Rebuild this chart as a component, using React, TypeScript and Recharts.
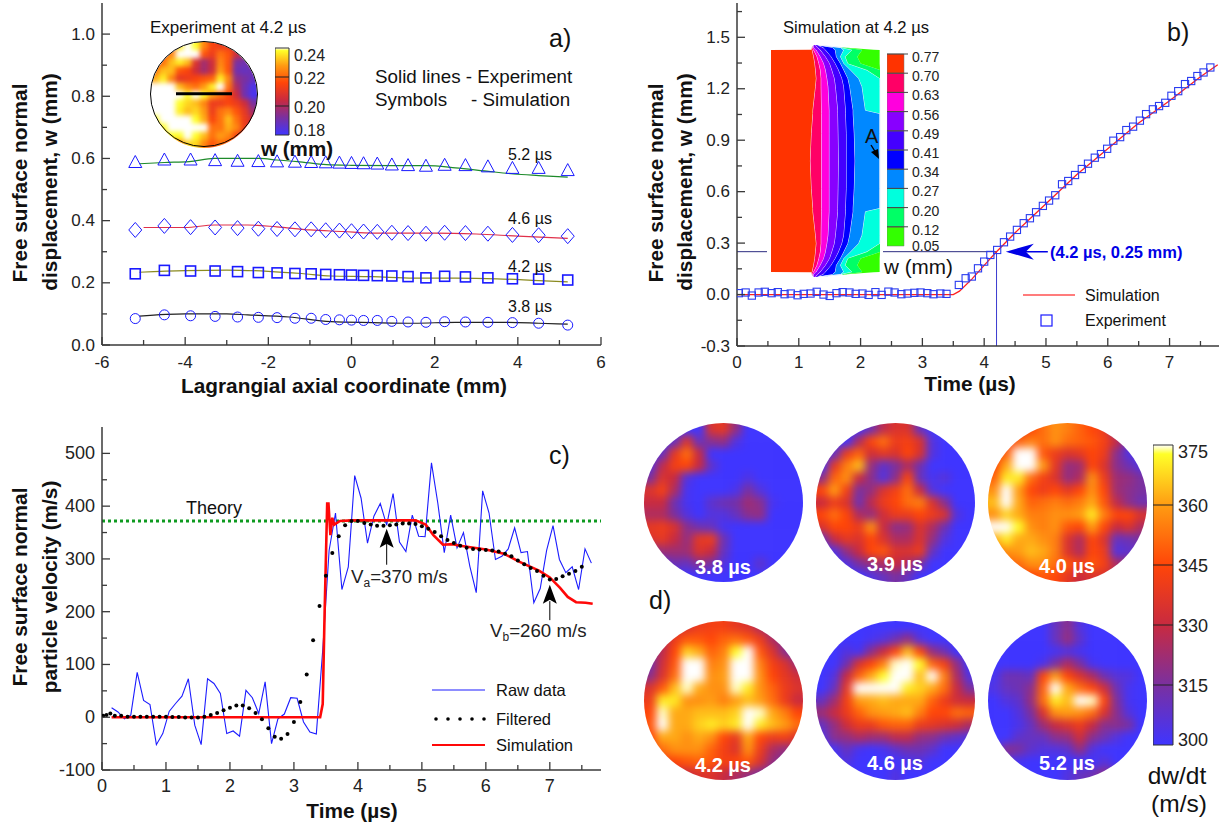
import React from "react";
import {
  Area,
  AreaChart,
  Bar,
  BarChart,
  ComposedChart,
  Line,
  ReferenceDot,
  ReferenceLine,
  Scatter,
  ScatterChart,
  XAxis,
  YAxis,
} from "recharts";

const FONT = "'Liberation Sans', Arial, sans-serif";
const FRAME = "#3a3a3a";

// ---- panel a) profiles along the axial coordinate
const symX = [-5.2, -4.5, -3.87, -3.28, -2.74, -2.24, -1.79, -1.36, -0.97, -0.62, -0.29, 0, 0.29, 0.62, 0.97, 1.36, 1.79, 2.24, 2.74, 3.28, 3.87, 4.5, 5.2];
const sim52 = [0.587, 0.595, 0.595, 0.593, 0.591, 0.59, 0.589, 0.588, 0.587, 0.586, 0.585, 0.584, 0.583, 0.582, 0.579, 0.577, 0.575, 0.578, 0.577, 0.573, 0.568, 0.568, 0.561];
const sim46 = [0.37, 0.383, 0.379, 0.378, 0.376, 0.374, 0.373, 0.372, 0.372, 0.369, 0.368, 0.366, 0.365, 0.364, 0.361, 0.36, 0.358, 0.361, 0.36, 0.358, 0.354, 0.353, 0.35];
const sim42 = [0.229, 0.24, 0.238, 0.238, 0.236, 0.233, 0.232, 0.23, 0.229, 0.227, 0.226, 0.225, 0.224, 0.223, 0.222, 0.22, 0.216, 0.221, 0.219, 0.216, 0.213, 0.212, 0.209];
const sim38 = [0.085, 0.097, 0.094, 0.092, 0.09, 0.089, 0.088, 0.086, 0.086, 0.082, 0.081, 0.08, 0.079, 0.079, 0.076, 0.074, 0.073, 0.075, 0.074, 0.073, 0.072, 0.07, 0.064];
const exp52X = [-5.1, -4.5, -3.9, -3.3, -2.7, -2.2, -1.8, -1.3, -0.6, 0, 1, 1.8, 2.5, 3.2, 3.9, 4.5, 5.2];
const exp52Y = [0.583, 0.587, 0.59, 0.6, 0.6, 0.6, 0.595, 0.59, 0.58, 0.578, 0.577, 0.577, 0.57, 0.56, 0.55, 0.545, 0.54];
const exp46X = [-5, -4, -3.3, -2.5, -1.8, -1, -0.2, 0.5, 1, 2, 3, 4, 5.2];
const exp46Y = [0.378, 0.378, 0.386, 0.386, 0.38, 0.37, 0.365, 0.36, 0.36, 0.36, 0.357, 0.35, 0.343];
const exp42X = [-5.1, -4, -3, -2, -1.2, -0.5, 0.5, 1.5, 2.5, 3.5, 4.5, 5.2];
const exp42Y = [0.234, 0.239, 0.241, 0.237, 0.23, 0.222, 0.22, 0.215, 0.215, 0.213, 0.207, 0.203];
const exp38X = [-5.1, -4, -3, -2.5, -1.5, -0.5, 0.5, 1.5, 2.5, 3.5, 4.5, 5.2];
const exp38Y = [0.093, 0.1, 0.1, 0.097, 0.09, 0.075, 0.072, 0.07, 0.073, 0.073, 0.07, 0.067];

// ---- panel b) displacement history
const dispT = [0.03, 0.14, 0.24, 0.35, 0.45, 0.56, 0.66, 0.77, 0.87, 0.98, 1.08, 1.19, 1.29, 1.4, 1.5, 1.61, 1.71, 1.82, 1.92, 2.03, 2.13, 2.24, 2.34, 2.45, 2.55, 2.66, 2.76, 2.87, 2.97, 3.08, 3.18, 3.29, 3.39, 3.59, 3.7, 3.8, 3.9, 4, 4.1, 4.21, 4.32, 4.42, 4.53, 4.64, 4.74, 4.84, 4.95, 5.05, 5.15, 5.26, 5.36, 5.47, 5.58, 5.68, 5.79, 5.89, 5.99, 6.09, 6.2, 6.3, 6.41, 6.52, 6.62, 6.73, 6.83, 6.93, 7.03, 7.14, 7.25, 7.35, 7.45, 7.55, 7.66];
const dispExp = [0.008, 0.012, -0.006, 0.012, 0.016, 0.008, 0.014, 0.002, 0.006, -0.004, 0.004, 0.006, 0.016, 0, -0.008, 0.008, 0.014, 0.012, 0.004, 0.006, -0.002, 0.014, -0.002, 0.017, 0.012, 0.002, 0.006, 0.01, 0.012, 0.008, 0.002, 0.006, 0.004, 0.056, 0.095, 0.105, 0.153, 0.192, 0.231, 0.26, 0.305, 0.338, 0.377, 0.416, 0.445, 0.48, 0.517, 0.548, 0.579, 0.643, 0.662, 0.697, 0.732, 0.763, 0.798, 0.819, 0.85, 0.897, 0.918, 0.959, 0.979, 1.014, 1.052, 1.08, 1.099, 1.118, 1.159, 1.186, 1.227, 1.245, 1.274, 1.295, 1.324];
const dispSimT = [0, 3.5, 3.6, 3.8, 4, 4.2, 4.5, 5, 5.5, 6, 6.5, 7, 7.5, 7.78];
const dispSim = [0, 0, 0.02, 0.09, 0.17, 0.25, 0.36, 0.53, 0.7, 0.85, 1, 1.13, 1.27, 1.34];

// ---- panel b) inset contour plot, edges of each band per row of the section
const simRows = [135, 142, 149, 150, 170, 190, 210, 235, 260, 330, 340, 400, 482];
const simBase = [115, 110, 108, 0, 0, 0, 0, 0, 0, 0, 0, 0, 0];
const simEdges = [
  [115, 110, 110, 111, 115, 118, 120, 122, 120, 113, 113, 109, 106],
  [115, 112, 114, 115, 124, 129, 133, 135, 135, 136, 136, 136, 136],
  [115, 114, 120, 122, 133, 142, 147, 151, 154, 157, 157, 157, 157],
  [120, 125, 132, 133, 147, 158, 164, 171, 174, 180, 180, 181, 182],
  [125, 140, 146, 147, 162, 173, 182, 191, 196, 201, 201, 203, 203],
  [128, 165, 172, 173, 176, 187, 196, 207, 212, 221, 221, 224, 226],
  [128, 187, 194, 196, 187, 196, 214, 236, 245, 254, 293, 293, 293],
  [128, 187, 216, 218, 200, 207, 258, 293, 293, 293, 293, 293, 293],
  [128, 187, 243, 245, 232, 241, 293, 293, 293, 293, 293, 293, 293],
  [128, 187, 276, 292, 292, 292, 293, 293, 293, 293, 293, 293, 293],
];
const simColors = ["#ff3300", "#ff0066", "#ff00dd", "#8800ff", "#4400ff", "#0000ff", "#0088ff", "#00ffdd", "#00ff66", "#33ff00"];
const simLabels = ["0.05", "0.12", "0.20", "0.27", "0.34", "0.41", "0.49", "0.56", "0.63", "0.70", "0.77"];

// ---- panel c) velocity history
const rawT = [0.15, 0.25, 0.35, 0.45, 0.55, 0.65, 0.75, 0.85, 0.95, 1.05, 1.15, 1.25, 1.35, 1.45, 1.55, 1.65, 1.75, 1.85, 1.95, 2.05, 2.15, 2.25, 2.35, 2.45, 2.55, 2.65, 2.75, 2.85, 2.95, 3.05, 3.15, 3.25, 3.35, 3.45, 3.55, 3.65, 3.75, 3.85, 3.95, 4.05, 4.15, 4.25, 4.35, 4.45, 4.55, 4.65, 4.75, 4.85, 4.95, 5.05, 5.15, 5.25, 5.35, 5.45, 5.55, 5.65, 5.75, 5.85, 5.95, 6.05, 6.15, 6.25, 6.35, 6.45, 6.55, 6.65, 6.75, 6.85, 6.95, 7.05, 7.15, 7.25, 7.35, 7.45, 7.55, 7.65];
const rawV = [18, 10, -3, 4, 85, 32, 24, -52, -31, 11, 26, 40, 73, -15, -52, 73, 64, 45, -31, -26, -36, 51, 37, 7, 67, -50, -3, 6, 37, 36, -9, -28, -32, 127, 316, 387, 242, 285, 458, 415, 330, 381, 405, 364, 424, 332, 314, 383, 343, 342, 482, 405, 312, 383, 321, 350, 286, 236, 429, 387, 299, 305, 319, 359, 312, 314, 217, 244, 316, 363, 299, 274, 285, 242, 319, 292];
const filtT = [0.02, 0.07, 0.13, 0.2, 0.3, 0.4, 0.5, 0.6, 0.7, 0.8, 0.9, 1, 1.1, 1.2, 1.3, 1.4, 1.5, 1.6, 1.7, 1.8, 1.9, 2, 2.1, 2.2, 2.3, 2.4, 2.5, 2.6, 2.7, 2.8, 2.9, 3, 3.1, 3.2, 3.3, 3.4, 3.5, 3.6, 3.7, 3.8, 3.9, 4, 4.1, 4.2, 4.3, 4.4, 4.5, 4.6, 4.7, 4.8, 4.9, 5, 5.1, 5.2, 5.3, 5.4, 5.5, 5.6, 5.7, 5.8, 5.9, 6, 6.1, 6.2, 6.3, 6.4, 6.5, 6.6, 6.7, 6.8, 6.9, 7, 7.1, 7.2, 7.3, 7.4, 7.5];
const filtV = [3, 4, 7, 3, 3, 1, 1, 1, 1, 1, 1, 1, 0.5, 0.5, -0.5, -0.5, -0.5, 1, 4, 8, 13, 18, 22, 22, 17, 8, -4, -21, -37, -41, -32, -9, 29, 81, 146, 211, 268, 311, 343, 364, 372, 372, 368, 365, 363, 363, 364, 365, 367, 367, 366, 362, 357, 351, 343, 336, 330, 325, 321, 319, 318, 317, 316, 314, 310, 305, 297, 290, 283, 277, 268, 261, 262, 267, 272, 277, 285];
const velSimT = [0.15, 3.41, 3.45, 3.48, 3.52, 3.54, 3.57, 3.6, 3.63, 3.72, 3.9, 4.9, 5.06, 5.18, 5.33, 5.48, 5.6, 6, 6.28, 6.52, 6.83, 7, 7.16, 7.28, 7.41, 7.56, 7.67];
const velSim = [0, 0, 25, 200, 405, 405, 345, 378, 365, 372, 373, 373, 365, 345, 327, 328, 325, 318, 310, 295, 278, 265, 245, 228, 218, 217, 215];
const THEORY = 372;

// ---- panel d) velocity maps, m/s on a coarse grid across the disc
const map38 = [
  [300, 300, 300, 300, 300, 335, 338, 320, 300, 300, 300, 300, 300],
  [300, 300, 310, 335, 310, 318, 320, 305, 300, 300, 300, 300, 300],
  [300, 310, 338, 352, 330, 300, 300, 300, 300, 300, 300, 300, 300],
  [305, 328, 342, 345, 330, 308, 300, 300, 300, 300, 300, 300, 300],
  [315, 335, 330, 305, 300, 300, 300, 300, 304, 300, 300, 300, 300],
  [335, 342, 325, 302, 300, 300, 300, 303, 315, 305, 300, 300, 300],
  [330, 330, 312, 302, 300, 308, 312, 314, 322, 318, 302, 300, 300],
  [325, 325, 315, 305, 300, 305, 305, 310, 318, 320, 300, 300, 300],
  [338, 340, 335, 318, 312, 310, 302, 300, 300, 300, 300, 300, 300],
  [335, 338, 330, 320, 338, 340, 312, 300, 300, 300, 300, 300, 300],
  [315, 322, 322, 322, 335, 330, 310, 300, 300, 300, 300, 300, 300],
  [300, 305, 312, 310, 318, 315, 305, 300, 300, 308, 300, 300, 300],
  [300, 300, 300, 300, 300, 300, 300, 300, 300, 300, 300, 300, 300],
];
const map39 = [
  [300, 300, 300, 300, 312, 328, 335, 335, 310, 300, 300, 300, 300],
  [300, 300, 300, 325, 345, 352, 340, 342, 335, 305, 300, 300, 300],
  [300, 310, 340, 350, 332, 338, 335, 345, 335, 305, 300, 300, 300],
  [300, 338, 355, 365, 320, 308, 315, 325, 312, 300, 300, 300, 300],
  [318, 350, 358, 330, 318, 305, 318, 345, 310, 302, 306, 300, 300],
  [345, 360, 342, 315, 320, 335, 342, 352, 330, 305, 300, 300, 300],
  [330, 340, 335, 312, 328, 340, 345, 352, 355, 335, 318, 300, 300],
  [345, 352, 345, 325, 320, 332, 340, 340, 345, 340, 335, 305, 300],
  [335, 345, 345, 340, 358, 330, 318, 320, 335, 325, 312, 300, 300],
  [310, 330, 338, 335, 345, 335, 325, 325, 335, 320, 305, 300, 300],
  [300, 305, 320, 330, 345, 348, 335, 335, 340, 310, 300, 300, 300],
  [300, 300, 305, 315, 320, 325, 330, 325, 315, 300, 300, 300, 300],
  [300, 300, 300, 300, 305, 310, 315, 310, 300, 300, 300, 300, 300],
];
const map40 = [
  [335, 335, 335, 345, 352, 358, 355, 350, 345, 340, 315, 305, 300],
  [335, 342, 350, 355, 352, 358, 352, 350, 348, 342, 330, 308, 305],
  [340, 350, 388, 385, 348, 340, 335, 338, 345, 340, 318, 305, 302],
  [345, 362, 395, 395, 360, 338, 320, 322, 345, 335, 318, 312, 305],
  [350, 372, 372, 352, 342, 335, 320, 325, 358, 340, 322, 320, 315],
  [358, 385, 360, 345, 340, 345, 338, 345, 358, 345, 322, 318, 315],
  [365, 385, 362, 350, 352, 355, 352, 355, 362, 348, 328, 318, 312],
  [358, 368, 362, 355, 355, 358, 358, 360, 372, 355, 345, 345, 335],
  [385, 392, 375, 358, 355, 358, 348, 345, 360, 345, 330, 335, 325],
  [362, 372, 362, 362, 358, 355, 335, 325, 345, 335, 310, 312, 315],
  [350, 358, 360, 365, 362, 355, 335, 325, 345, 340, 305, 308, 310],
  [345, 350, 352, 358, 358, 352, 348, 342, 348, 342, 325, 320, 315],
  [335, 338, 340, 345, 348, 345, 338, 330, 335, 335, 325, 315, 310],
];
const map42 = [
  [315, 320, 330, 335, 340, 342, 342, 338, 335, 325, 318, 312, 310],
  [320, 325, 340, 348, 348, 345, 350, 352, 348, 340, 325, 318, 312],
  [315, 328, 345, 368, 362, 350, 355, 375, 385, 348, 335, 318, 310],
  [312, 332, 348, 392, 392, 355, 358, 392, 395, 355, 342, 335, 322],
  [318, 335, 352, 395, 392, 358, 360, 395, 392, 358, 345, 338, 332],
  [335, 348, 365, 378, 362, 358, 358, 378, 372, 358, 350, 340, 335],
  [340, 372, 372, 358, 358, 360, 355, 360, 365, 360, 352, 340, 330],
  [345, 378, 362, 362, 365, 365, 365, 368, 390, 378, 362, 355, 345],
  [348, 382, 362, 362, 368, 372, 368, 372, 392, 372, 365, 360, 352],
  [345, 362, 362, 358, 362, 358, 345, 338, 362, 345, 340, 342, 335],
  [340, 352, 358, 358, 358, 350, 342, 335, 358, 340, 325, 320, 325],
  [335, 340, 345, 348, 350, 348, 342, 345, 348, 335, 320, 315, 315],
  [325, 328, 330, 330, 335, 335, 330, 325, 320, 315, 312, 310, 310],
];
const map46 = [
  [300, 300, 300, 300, 300, 300, 300, 300, 300, 300, 300, 300, 300],
  [300, 300, 300, 300, 302, 305, 312, 320, 305, 300, 300, 300, 300],
  [300, 300, 305, 302, 318, 330, 345, 365, 345, 320, 312, 300, 300],
  [300, 300, 312, 335, 345, 355, 378, 395, 375, 350, 342, 320, 300],
  [300, 305, 330, 350, 362, 375, 395, 392, 365, 385, 355, 325, 305],
  [300, 310, 338, 385, 388, 385, 392, 372, 368, 362, 352, 330, 315],
  [310, 322, 342, 360, 362, 365, 362, 362, 362, 350, 340, 332, 330],
  [322, 330, 340, 350, 358, 360, 362, 365, 355, 345, 345, 352, 350],
  [310, 320, 332, 340, 340, 348, 350, 350, 340, 338, 335, 332, 325],
  [305, 318, 320, 325, 322, 322, 328, 328, 320, 318, 312, 308, 305],
  [300, 302, 310, 302, 300, 302, 308, 312, 312, 308, 300, 300, 300],
  [300, 300, 305, 300, 300, 300, 300, 303, 305, 300, 300, 300, 300],
  [300, 300, 300, 300, 300, 300, 305, 300, 300, 300, 300, 300, 300],
];
const map52 = [
  [300, 300, 300, 300, 300, 310, 318, 305, 300, 300, 300, 300, 300],
  [300, 300, 300, 300, 300, 310, 320, 308, 300, 300, 300, 300, 300],
  [300, 300, 300, 300, 300, 302, 305, 302, 300, 300, 300, 300, 300],
  [300, 300, 300, 300, 303, 315, 325, 315, 302, 300, 300, 300, 300],
  [302, 312, 312, 310, 345, 360, 345, 335, 325, 312, 306, 305, 300],
  [304, 310, 312, 318, 350, 380, 362, 352, 345, 332, 312, 302, 300],
  [300, 305, 308, 320, 352, 372, 365, 395, 378, 345, 316, 302, 300],
  [300, 300, 305, 315, 335, 358, 360, 358, 352, 335, 318, 305, 300],
  [300, 300, 303, 310, 322, 330, 335, 340, 330, 318, 318, 315, 300],
  [300, 300, 308, 310, 310, 318, 320, 332, 318, 312, 305, 300, 300],
  [300, 318, 315, 308, 305, 305, 308, 320, 305, 300, 300, 300, 300],
  [300, 305, 302, 300, 300, 300, 300, 300, 300, 306, 300, 300, 300],
  [300, 300, 300, 300, 300, 300, 305, 310, 312, 318, 312, 300, 300],
];
// inset of panel a), displacement in micrometres
const mapInset = [
  [205, 210, 220, 238, 250, 240, 225, 215, 212, 212, 205, 200, 195],
  [210, 218, 225, 250, 250, 245, 218, 212, 222, 218, 205, 200, 195],
  [215, 222, 232, 238, 232, 208, 198, 205, 225, 218, 192, 190, 195],
  [222, 232, 232, 218, 215, 205, 198, 205, 228, 218, 190, 188, 190],
  [230, 238, 225, 210, 212, 215, 218, 220, 238, 225, 195, 192, 188],
  [245, 250, 245, 232, 225, 222, 228, 238, 250, 222, 200, 190, 183],
  [250, 250, 250, 245, 240, 245, 240, 228, 222, 215, 205, 190, 182],
  [250, 250, 250, 240, 235, 232, 225, 212, 212, 215, 212, 205, 192],
  [250, 250, 250, 238, 232, 235, 228, 212, 222, 225, 218, 210, 198],
  [240, 250, 250, 250, 248, 240, 230, 215, 222, 232, 222, 212, 205],
  [235, 240, 248, 250, 250, 250, 250, 222, 222, 230, 225, 212, 205],
  [230, 235, 240, 240, 250, 240, 232, 222, 228, 225, 215, 205, 200],
  [225, 225, 225, 225, 235, 235, 225, 218, 222, 218, 210, 205, 200],
];

// colour table of the maps, value to rgb
const heatStops: [number, number[]][] = [
  [300, [63, 53, 255]],
  [315, [122, 48, 160]],
  [330, [200, 42, 64]],
  [345, [255, 69, 8]],
  [360, [255, 156, 18]],
  [375, [255, 255, 40]],
  [379, [255, 255, 255]],
];
const heatColor = (v: number) => {
  if (v <= 300) return "rgb(63,53,255)";
  for (let i = 1; i < heatStops.length; i++) {
    const [hi, c1] = heatStops[i];
    const [lo, c0] = heatStops[i - 1];
    if (v <= hi) {
      const f = (v - lo) / (hi - lo);
      const c = c0.map((a, k) => Math.round(a + (c1[k] - a) * f));
      return `rgb(${c[0]},${c[1]},${c[2]})`;
    }
  }
  return "#fff";
};
const insetColor = (w: number) => heatColor(300 + (w - 180) * 1.25);

const zip = (xs: number[], ys: number[]) => xs.map((x, i) => ({ x, y: ys[i] }));

const T = ({ x, y, size = 16, bold, fill = "#111", anchor = "start", rotate, children }: any) => (
  <text
    x={rotate ? 0 : x}
    y={rotate ? 0 : y}
    transform={rotate ? `translate(${x},${y}) rotate(${rotate})` : undefined}
    fontFamily={FONT}
    fontSize={size}
    fontWeight={bold ? "bold" : "normal"}
    fill={fill}
    textAnchor={anchor}
    dominantBaseline="central"
  >
    {children}
  </text>
);

// inward ticks for all four sides of the frame, labels only on left and bottom
const frameTick = (side: string, majors: number[], fmt: (v: number) => string, size: number, gap: number) => (p: any) => {
  const v = p.payload.value;
  const isMajor = majors.includes(v);
  const len = isMajor ? 8 : 5;
  const dx = side === "left" ? len : side === "right" ? -len : 0;
  const dy = side === "top" ? len : side === "bottom" ? -len : 0;
  return (
    <g>
      <line x1={p.x} y1={p.y} x2={p.x + dx} y2={p.y + dy} stroke={FRAME} strokeWidth={1.3} />
      {isMajor && side === "left" && (
        <text x={p.x - gap} y={p.y} textAnchor="end" dominantBaseline="central" fontFamily={FONT} fontSize={size} fill="#222">
          {fmt(v)}
        </text>
      )}
      {isMajor && side === "bottom" && (
        <text x={p.x} y={p.y + gap} textAnchor="middle" dominantBaseline="central" fontFamily={FONT} fontSize={size} fill="#222">
          {fmt(v)}
        </text>
      )}
    </g>
  );
};

const frameAxes = (c: any) => {
  const line = { stroke: FRAME, strokeWidth: 1.5 };
  const common = { type: "number" as const, interval: 0 as const, tickLine: false, tickSize: 0, tickMargin: 0, axisLine: line, allowDataOverflow: true };
  return [
    <XAxis key="b" {...common} dataKey="x" domain={c.xDomain} ticks={c.xTicks} height={c.bottom} tick={frameTick("bottom", c.xMajors, c.xFmt, c.size, c.xGap)} />,
    <XAxis key="t" {...common} xAxisId="top" orientation="top" domain={c.xDomain} ticks={c.xTicks} height={0} tick={frameTick("top", c.xMajors, c.xFmt, c.size, 0)} />,
    <YAxis key="l" {...common} domain={c.yDomain} ticks={c.yTicks} width={c.left} tick={frameTick("left", c.yMajors, c.yFmt, c.size, c.yGap)} />,
    <YAxis key="r" {...common} yAxisId="right" orientation="right" domain={c.yDomain} ticks={c.yTicks} width={0} tick={frameTick("right", c.yMajors, c.yFmt, c.size, 0)} />,
  ];
};

const triangle = (p: any) => <path key={p.index} d={`M${p.cx} ${p.cy - 7}L${p.cx + 6.5} ${p.cy + 5}L${p.cx - 6.5} ${p.cy + 5}Z`} fill="none" stroke="#1a1aff" strokeWidth={1} />;
const diamond = (p: any) => <path key={p.index} d={`M${p.cx} ${p.cy - 7.5}L${p.cx + 6.5} ${p.cy}L${p.cx} ${p.cy + 7.5}L${p.cx - 6.5} ${p.cy}Z`} fill="none" stroke="#1a1aff" strokeWidth={1} />;
const square = (p: any) => <rect key={p.index} x={p.cx - 5} y={p.cy - 5} width={10} height={10} fill="none" stroke="#1a1aff" strokeWidth={1.6} />;
const circle = (p: any) => <circle key={p.index} cx={p.cx} cy={p.cy} r={5} fill="none" stroke="#1a1aff" strokeWidth={1} />;
const smallSquare = (p: any) => <rect key={p.index} x={p.cx - 3.6} y={p.cy - 3.6} width={7.2} height={7.2} fill="none" stroke="#2a3cf0" strokeWidth={1.1} />;
const blackDot = (p: any) => <circle key={p.index} cx={p.cx} cy={p.cy} r={2} fill="#000" />;
const arrowUp = (p: any) => <path d={`M${p.cx} ${p.cy}L${p.cx + 7} ${p.cy + 19}L${p.cx} ${p.cy + 15}L${p.cx - 7} ${p.cy + 19}Z`} fill="#000" />;
const arrowLeft = (p: any) => <path d={`M${p.cx} ${p.cy}L${p.cx + 28} ${p.cy - 8}L${p.cx + 20} ${p.cy}L${p.cx + 28} ${p.cy + 8}Z`} fill="#0000e6" />;

const Box = ({ left, top, width, height, style, children }: any) => (
  <div style={{ position: "absolute", left, top, width, height, ...style }}>{children}</div>
);

function PanelA() {
  const profiles = [
    { ys: sim52, dot: triangle, lx: exp52X, ly: exp52Y, col: "#1d8a2a" },
    { ys: sim46, dot: diamond, lx: exp46X, ly: exp46Y, col: "#e0304a" },
    { ys: sim42, dot: square, lx: exp42X, ly: exp42Y, col: "#8a8a20" },
    { ys: sim38, dot: circle, lx: exp38X, ly: exp38Y, col: "#222" },
  ];
  return (
    <Box left={0} top={0} width={620} height={400}>
      <ComposedChart width={620} height={400} margin={{ top: 3, right: 19, bottom: 0, left: 0 }}>
        {frameAxes({
          xDomain: [-6, 6], xTicks: [-6, -5, -4, -3, -2, -1, 0, 1, 2, 3, 4, 5, 6], xMajors: [-6, -4, -2, 0, 2, 4, 6], xFmt: String, xGap: 17,
          yDomain: [0, 1.1], yTicks: [0, 0.1, 0.2, 0.3, 0.4, 0.5, 0.6, 0.7, 0.8, 0.9, 1], yMajors: [0, 0.2, 0.4, 0.6, 0.8, 1], yFmt: (v: number) => v.toFixed(1), yGap: 7,
          left: 102, bottom: 55, size: 17,
        })}
        {profiles.map((s, i) => (
          <Line key={`l${i}`} data={zip(s.lx, s.ly)} dataKey="y" type="monotone" stroke={s.col} strokeWidth={1.2} dot={false} isAnimationActive={false} />
        ))}
        {profiles.map((s, i) => (
          <Line key={`s${i}`} data={zip(symX, s.ys)} dataKey="y" stroke="none" dot={s.dot} isAnimationActive={false} />
        ))}
      </ComposedChart>
    </Box>
  );
}

function PanelB() {
  return (
    <Box left={620} top={0} width={602} height={400}>
      <ComposedChart width={602} height={400} margin={{ top: 3, right: 3, bottom: 0, left: 0 }}>
        {frameAxes({
          xDomain: [0, 7.8], xTicks: [0, 0.5, 1, 1.5, 2, 2.5, 3, 3.5, 4, 4.5, 5, 5.5, 6, 6.5, 7, 7.5], xMajors: [0, 1, 2, 3, 4, 5, 6, 7], xFmt: String, xGap: 16,
          yDomain: [-0.3, 1.7], yTicks: [-0.3, -0.15, 0, 0.15, 0.3, 0.45, 0.6, 0.75, 0.9, 1.05, 1.2, 1.35, 1.5, 1.65], yMajors: [-0.3, 0, 0.3, 0.6, 0.9, 1.2, 1.5], yFmt: (v: number) => v.toFixed(1), yGap: 7,
          left: 117, bottom: 54, size: 17,
        })}
        <ReferenceLine segment={[{ x: 0, y: 0.25 }, { x: 4.2, y: 0.25 }]} stroke="#2c2c80" strokeWidth={1} />
        <ReferenceLine segment={[{ x: 4.2, y: -0.3 }, { x: 4.2, y: 0.25 }]} stroke="#3a3ad0" strokeWidth={1} />
        <ReferenceLine segment={[{ x: 4.4, y: 0.25 }, { x: 5.03, y: 0.25 }]} stroke="#0000e6" strokeWidth={1.5} />
        <ReferenceDot x={4.35} y={0.25} shape={arrowLeft} />
        <Line data={zip(dispSimT, dispSim)} dataKey="y" stroke="#ff2020" strokeWidth={1.3} dot={false} isAnimationActive={false} />
        <Line data={zip(dispT, dispExp)} dataKey="y" stroke="none" dot={smallSquare} isAnimationActive={false} />
      </ComposedChart>
    </Box>
  );
}

function PanelC() {
  return (
    <Box left={0} top={400} width={620} height={423}>
      <ComposedChart width={620} height={423} margin={{ top: 27, right: 19, bottom: 0, left: 0 }}>
        {frameAxes({
          xDomain: [0, 7.8], xTicks: [0, 0.5, 1, 1.5, 2, 2.5, 3, 3.5, 4, 4.5, 5, 5.5, 6, 6.5, 7, 7.5], xMajors: [0, 1, 2, 3, 4, 5, 6, 7], xFmt: String, xGap: 16,
          yDomain: [-100, 550], yTicks: [-100, -50, 0, 50, 100, 150, 200, 250, 300, 350, 400, 450, 500], yMajors: [-100, 0, 100, 200, 300, 400, 500], yFmt: String, yGap: 7,
          left: 102, bottom: 53, size: 18,
        })}
        <ReferenceLine y={THEORY} stroke="#0e9a20" strokeWidth={3} strokeDasharray="3 3" />
        <ReferenceLine segment={[{ x: 4.45, y: 289 }, { x: 4.45, y: 330 }]} stroke="#000" strokeWidth={1} />
        <ReferenceDot x={4.45} y={357} shape={arrowUp} />
        <ReferenceLine segment={[{ x: 7, y: 184 }, { x: 7, y: 220 }]} stroke="#000" strokeWidth={1} />
        <ReferenceDot x={7} y={251} shape={arrowUp} />
        <Line data={zip(rawT, rawV)} dataKey="y" stroke="#1c1cff" strokeWidth={1.1} dot={false} isAnimationActive={false} />
        <Line data={zip(velSimT, velSim)} dataKey="y" stroke="#ff0808" strokeWidth={2.6} dot={false} isAnimationActive={false} />
        <Line data={zip(filtT, filtV)} dataKey="y" stroke="none" dot={blackDot} isAnimationActive={false} />
      </ComposedChart>
    </Box>
  );
}

// one map, cells go through the scales, the wrapper blurs them and cuts the disc
function HeatDisc({ grid, left, top, size, blur = 4.3, color = heatColor }: any) {
  const pad = 18;
  const n = grid.length;
  const cell = size / n;
  const cells = grid.flatMap((row: number[], r: number) => row.map((v, c) => ({ c, r, v })));
  const shape = (p: any) => {
    const d = p.payload;
    const x0 = d.c === 0 ? p.cx - cell / 2 - pad : p.cx - cell / 2;
    const x1 = d.c === n - 1 ? p.cx + cell / 2 + pad : p.cx + cell / 2 + 0.5;
    const y0 = d.r === 0 ? p.cy - cell / 2 - pad : p.cy - cell / 2;
    const y1 = d.r === n - 1 ? p.cy + cell / 2 + pad : p.cy + cell / 2 + 0.5;
    return <rect x={x0} y={y0} width={x1 - x0} height={y1 - y0} fill={color(d.v)} />;
  };
  return (
    <Box left={left} top={top} width={size} height={size} style={{ borderRadius: "50%", overflow: "hidden" }}>
      <Box left={-pad} top={-pad} width={size + 2 * pad} height={size + 2 * pad} style={{ filter: `blur(${blur}px)` }}>
        <ScatterChart width={size + 2 * pad} height={size + 2 * pad} margin={{ top: pad, right: pad, bottom: pad, left: pad }}>
          <XAxis type="number" dataKey="c" domain={[-0.5, n - 0.5]} hide />
          <YAxis type="number" dataKey="r" domain={[-0.5, n - 0.5]} reversed hide />
          <Scatter data={cells} shape={shape} isAnimationActive={false} />
        </ScatterChart>
      </Box>
    </Box>
  );
}

// gradient colour bars of the maps
function GradientBar({ id, left, top, barW, height, min, max, stops, ticks, fmt, size, labelW }: any) {
  const pad = 14;
  const tick = (p: any) => {
    const v = p.payload.value;
    const dy = v === max ? 7 : v === min ? -5 : 1;
    return (
      <g>
        {v !== max && v !== min && <line x1={p.x - barW} x2={p.x} y1={p.y} y2={p.y} stroke="#222" strokeWidth={1} />}
        <text x={p.x + 5} y={p.y + dy} dominantBaseline="central" fontFamily={FONT} fontSize={size} fill="#222">
          {fmt(v)}
        </text>
      </g>
    );
  };
  return (
    <Box left={left} top={top - pad} width={barW + labelW} height={height + 2 * pad}>
      <BarChart width={barW + labelW} height={height + 2 * pad} data={[{ n: "", v: max }]} barCategoryGap={0} margin={{ top: pad, right: 0, bottom: pad, left: 0 }}>
        <defs>
          <linearGradient id={id} x1="0" y1="1" x2="0" y2="0">
            {stops.map((s: any) => (
              <stop key={s[0]} offset={s[0]} stopColor={s[1]} />
            ))}
          </linearGradient>
        </defs>
        <XAxis dataKey="n" hide />
        <Bar dataKey="v" fill={`url(#${id})`} stroke="#333" strokeWidth={1} isAnimationActive={false} />
        <YAxis orientation="right" type="number" domain={[min, max]} ticks={ticks} interval={0} width={labelW} axisLine={false} tickLine={false} tickSize={0} tickMargin={0} tick={tick} />
      </BarChart>
    </Box>
  );
}

const heatBarStops = [
  [0, "#3f35ff"], [0.2, "#7a30a0"], [0.4, "#c82a40"], [0.6, "#ff4508"], [0.8, "#ff9c12"], [0.97, "#ffff28"], [1, "#ffffff"],
];

function SimBar() {
  const row: any = { n: "" };
  simColors.forEach((_, i) => (row[`b${i}`] = 1));
  const tick = (p: any) => {
    const i = p.payload.value;
    return (
      <g>
        {i > 0 && i <= 10 && <line x1={p.x - 17} x2={p.x + 4} y1={p.y} y2={p.y} stroke="#444" strokeWidth={1} />}
        <text x={p.x + 8} y={p.y + (i === 0 ? 0 : 3)} dominantBaseline="central" fontFamily={FONT} fontSize={14} fill="#222">
          {simLabels[i]}
        </text>
      </g>
    );
  };
  return (
    <Box left={887} top={44} width={55} height={212}>
      <BarChart width={55} height={212} data={[row]} barCategoryGap={0} margin={{ top: 10, right: 0, bottom: 10, left: 0 }}>
        <XAxis dataKey="n" hide />
        {simColors.map((_, i) => (
          <Bar key={i} dataKey={`b${i}`} stackId="s" fill={simColors[9 - i]} stroke="#777" strokeWidth={0.5} isAnimationActive={false} />
        ))}
        <YAxis orientation="right" type="number" domain={[0, 10]} ticks={[0, 1, 2, 3, 4, 5, 6, 7, 8, 9, 10]} interval={0} width={38} axisLine={false} tickLine={false} tickSize={0} tickMargin={0} tick={tick} />
      </BarChart>
    </Box>
  );
}

function SimContour() {
  // mirror the upper half of the section, the specimen is symmetric
  const lastRow = simRows.length - 1;
  const toRow = (pos: number, i: number) => {
    const rec: any = { pos, base: simBase[i] };
    let prev = simBase[i];
    simEdges.forEach((e, b) => {
      rec[`b${b}`] = e[i] - prev;
      prev = e[i];
    });
    return rec;
  };
  const rows = simRows.map(toRow);
  for (let i = lastRow - 1; i >= 0; i--) rows.push(toRow(964 - simRows[i], i));
  return (
    <>
      <Box left={767} top={43} width={116} height={236} style={{ background: "#fff" }} />
      <Box left={770.5} top={45} width={110.5} height={232}>
        <AreaChart width={110.5} height={232} layout="vertical" data={rows} margin={{ top: 0, right: 0, bottom: 0, left: 0 }}>
          <XAxis type="number" domain={[0, 297]} hide />
          <YAxis type="number" dataKey="pos" domain={[135, 829]} reversed hide />
          <Area dataKey="base" stackId="c" type="linear" fill="none" stroke="none" isAnimationActive={false} />
          {simColors.map((c, i) => (
            <Area key={c} dataKey={`b${i}`} stackId="c" type="linear" fill={c} fillOpacity={1} stroke={i < 8 ? "#f4f4ff" : "none"} strokeWidth={0.9} isAnimationActive={false} />
          ))}
        </AreaChart>
      </Box>
    </>
  );
}

function Overlay() {
  return (
    <svg width={1222} height={823} style={{ position: "absolute", left: 0, top: 0, pointerEvents: "none" }}>
      {/* panel a */}
      <T x={19.5} y={183} size={20.8} bold anchor="middle" rotate={-90}>Free surface normal</T>
      <T x={49} y={182} size={20.8} bold anchor="middle" rotate={-90}>displacement, w (mm)</T>
      <T x={344} y={385} size={20.8} bold anchor="middle">Lagrangial axial coordinate (mm)</T>
      <T x={549} y={38} size={25}>a)</T>
      <T x={150} y={27} size={17}>Experiment at 4.2 µs</T>
      <T x={261} y={148} size={20.6} bold>w (mm)</T>
      <T x={375} y={76} size={18.8}>Solid lines - Experiment</T>
      <T x={375} y={99} size={18.8}>Symbols</T>
      <T x={471} y={99} size={18.8}>- Simulation</T>
      <T x={508} y={154} size={16}>5.2 µs</T>
      <T x={508} y={218} size={16}>4.6 µs</T>
      <T x={508} y={266} size={16}>4.2 µs</T>
      <T x={508} y={306} size={16}>3.8 µs</T>
      <ellipse cx={204} cy={94} rx={53.5} ry={52.5} fill="none" stroke="#000" strokeWidth={1} />
      <line x1={176} y1={93.7} x2={232} y2={93.7} stroke="#000" strokeWidth={3} />

      {/* panel b */}
      <T x={655} y={183} size={20.8} bold anchor="middle" rotate={-90}>Free surface normal</T>
      <T x={684} y={182} size={20.8} bold anchor="middle" rotate={-90}>displacement, w (mm)</T>
      <T x={970} y={383} size={20.8} bold anchor="middle">Time (µs)</T>
      <T x={1167} y={32} size={25}>b)</T>
      <T x={783} y={27} size={16.6}>Simulation at 4.2 µs</T>
      <T x={884} y={266} size={20.7}>w (mm)</T>
      <T x={865} y={136} size={20}>A</T>
      <line x1={871} y1={145} x2={876} y2={153} stroke="#000" strokeWidth={1.4} />
      <path d="M879 159L871 152L878 149Z" fill="#000" />
      <T x={1050} y={252} size={16.5} bold fill="#0000e6">(4.2 µs, 0.25 mm)</T>
      <line x1={1023} y1={295} x2={1075} y2={295} stroke="#ff5050" strokeWidth={1.4} />
      <T x={1085} y={295} size={16}>Simulation</T>
      <rect x={1041} y={315} width={11} height={11} fill="none" stroke="#1a1aff" strokeWidth={1.2} />
      <T x={1085} y={320} size={16}>Experiment</T>

      {/* panel c */}
      <T x={19.5} y={587} size={20.8} bold anchor="middle" rotate={-90}>Free surface normal</T>
      <T x={49} y={587} size={20.8} bold anchor="middle" rotate={-90}>particle velocity (m/s)</T>
      <T x={352} y={810} size={20.8} bold anchor="middle">Time (µs)</T>
      <T x={549} y={455} size={25}>c)</T>
      <T x={186} y={508} size={18}>Theory</T>
      <text x={351} y={583} fontFamily={FONT} fontSize={18.7} fill="#222">
        V<tspan fontSize={12} dy={4}>a</tspan>
        <tspan dy={-4}>=370 m/s</tspan>
      </text>
      <text x={490} y={637} fontFamily={FONT} fontSize={18.7} fill="#222">
        V<tspan fontSize={12} dy={4}>b</tspan>
        <tspan dy={-4}>=260 m/s</tspan>
      </text>
      <line x1={432} y1={690} x2={485} y2={690} stroke="#1c1cff" strokeWidth={1.2} />
      <T x={496} y={690} size={16.5}>Raw data</T>
      {[436, 448, 460, 472, 484].map((x) => (
        <circle key={x} cx={x} cy={719} r={1.8} fill="#000" />
      ))}
      <T x={496} y={719} size={16.5}>Filtered</T>
      <line x1={432} y1={745} x2={485} y2={745} stroke="#ff0808" strokeWidth={2} />
      <T x={496} y={745} size={16.5}>Simulation</T>

      {/* panel d */}
      <T x={649} y={600} size={25}>d)</T>
      <T x={723} y={567} size={20} bold fill="#fff" anchor="middle">3.8 µs</T>
      <T x={895} y={564} size={20} bold fill="#fff" anchor="middle">3.9 µs</T>
      <T x={1067} y={566} size={20} bold fill="#fff" anchor="middle">4.0 µs</T>
      <T x={723} y={765} size={20} bold fill="#fff" anchor="middle">4.2 µs</T>
      <T x={895} y={763} size={20} bold fill="#fff" anchor="middle">4.6 µs</T>
      <T x={1067} y={763} size={20} bold fill="#fff" anchor="middle">5.2 µs</T>
      <T x={1177} y={775} size={24.5} anchor="middle">dw/dt</T>
      <T x={1179} y={803} size={24.5} anchor="middle">(m/s)</T>
    </svg>
  );
}

export default function App() {
  return (
    <div style={{ position: "absolute", left: 0, top: 0, width: 1222, height: 823, background: "#fff", overflow: "hidden" }}>
      <PanelA />
      <PanelB />
      <PanelC />
      <SimContour />
      <SimBar />
      <HeatDisc grid={mapInset} left={150.5} top={41.5} size={106} blur={2.6} color={insetColor} />
      <GradientBar id="gw" left={275} top={48} barW={14} height={87} min={0.18} max={0.24} stops={heatBarStops} ticks={[0.18, 0.2, 0.22, 0.24]} fmt={(v: number) => v.toFixed(2)} size={16} labelW={46} />
      <HeatDisc grid={map38} left={644} top={423} size={159} />
      <HeatDisc grid={map39} left={816} top={423} size={159} />
      <HeatDisc grid={map40} left={988} top={423} size={159} />
      <HeatDisc grid={map42} left={644} top={620.5} size={159} />
      <HeatDisc grid={map46} left={816} top={620.5} size={159} />
      <HeatDisc grid={map52} left={988} top={620.5} size={159} />
      <GradientBar id="gv" left={1153} top={445} barW={20} height={300} min={300} max={375} stops={heatBarStops} ticks={[300, 315, 330, 345, 360, 375]} fmt={String} size={18} labelW={48} />
      <Overlay />
    </div>
  );
}
